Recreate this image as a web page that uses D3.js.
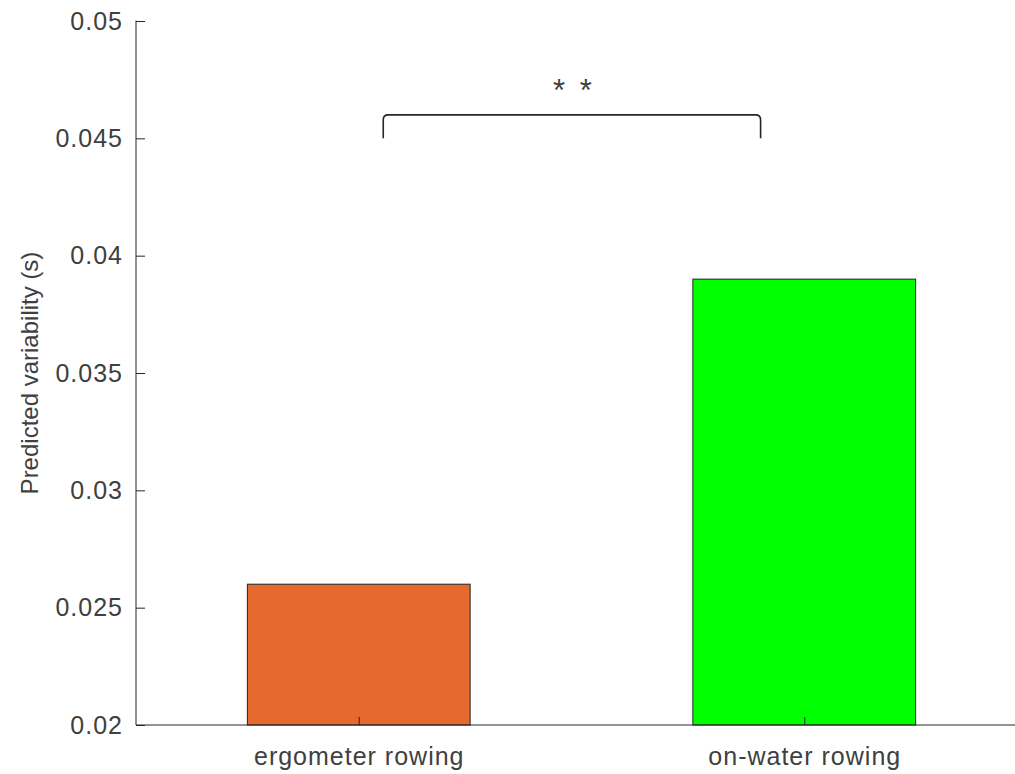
<!DOCTYPE html>
<html>
<head>
<meta charset="utf-8">
<script src="https://cdn.jsdelivr.net/npm/d3@7"></script>
<style>
  body { margin: 0; background: #fff; }
  text { font-family: "Liberation Sans", Arial, sans-serif; fill: #404040; }
</style>
</head>
<body>
<div id="chart"></div>
<script>
const categories = ["ergometer rowing", "on-water rowing"];
const values = [0.026, 0.039];
const barColors = ["#e6692e", "#00ff00"];
const yTicks = [0.02, 0.025, 0.03, 0.035, 0.04, 0.045, 0.05];
const bracketX = [1.055, 1.902];
const bracketY = [0.045, 0.046];
const sigLabel = "* *";

const width = 1015, height = 774;
const plotLeft = 136, plotTop = 21, plotBottom = 725;

const svg = d3.select("#chart").append("svg")
    .attr("width", width)
    .attr("height", height);

const x = d3.scaleLinear().domain([0.5, 2.5]).range([plotLeft, 1027]);
const y = d3.scaleLinear().domain([0.02, 0.05]).range([plotBottom, plotTop]);
const barWidth = 0.5;

// bars
svg.selectAll("rect.bar")
    .data(values)
    .enter()
    .append("rect")
    .attr("class", "bar")
    .attr("x", (d, i) => x(i + 1 - barWidth / 2))
    .attr("width", x(1 + barWidth / 2) - x(1 - barWidth / 2))
    .attr("y", d => y(d))
    .attr("height", d => y(0.02) - y(d))
    .attr("fill", (d, i) => barColors[i])
    .attr("stroke", "#222")
    .attr("stroke-width", 1);

// y axis, ticks inside
const yAxis = d3.axisLeft(y)
    .tickValues(yTicks)
    .tickSize(-9)
    .tickFormat(d => String(+d.toFixed(3)));

const gy = svg.append("g")
    .attr("transform", `translate(${plotLeft},0)`)
    .call(yAxis);
gy.select(".domain").attr("stroke", "#262626").attr("d", `M0,${plotBottom}V${plotTop - 0.5}`);
gy.selectAll(".tick line").attr("stroke", "#262626");
gy.selectAll(".tick text")
    .attr("x", -13)
    .style("font-size", "25px")
    .style("letter-spacing", "1px")
    .attr("fill", "#404040");

// x axis, ticks inside
const xAxis = d3.axisBottom(x)
    .tickValues([1, 2])
    .tickSize(-8)
    .tickFormat((d, i) => categories[i]);

const gx = svg.append("g")
    .attr("transform", `translate(0,${plotBottom})`)
    .call(xAxis);
gx.select(".domain").attr("stroke", "#262626").attr("d", `M${plotLeft},0H${width}`);
gx.selectAll(".tick line").attr("stroke", "#262626");
gx.selectAll(".tick text")
    .attr("dy", null)
    .attr("y", 40)
    .style("font-size", "25px")
    .style("letter-spacing", "1px")
    .attr("fill", "#404040");

// y label
svg.append("text")
    .attr("transform", `translate(38,${(plotTop + plotBottom) / 2}) rotate(-90)`)
    .attr("text-anchor", "middle")
    .style("font-size", "24px")
    .text("Predicted variability (s)");

// significance bracket
const r = 5;
const bx0 = x(bracketX[0]), bx1 = x(bracketX[1]);
const by0 = y(bracketY[0]), by1 = y(bracketY[1]);
svg.append("path")
    .attr("d", `M${bx0},${by0}V${by1 + r}Q${bx0},${by1} ${bx0 + r},${by1}H${bx1 - r}Q${bx1},${by1} ${bx1},${by1 + r}V${by0}`)
    .attr("fill", "none")
    .attr("stroke", "#262626")
    .attr("stroke-width", 1.6);

svg.append("text")
    .attr("x", (bx0 + bx1) / 2 + 2)
    .attr("y", by1 - 14)
    .attr("text-anchor", "middle")
    .style("font-size", "31px")
    .style("letter-spacing", "3px")
    .attr("fill", "#3a3a3a")
    .text(sigLabel);
</script>
</body>
</html>
